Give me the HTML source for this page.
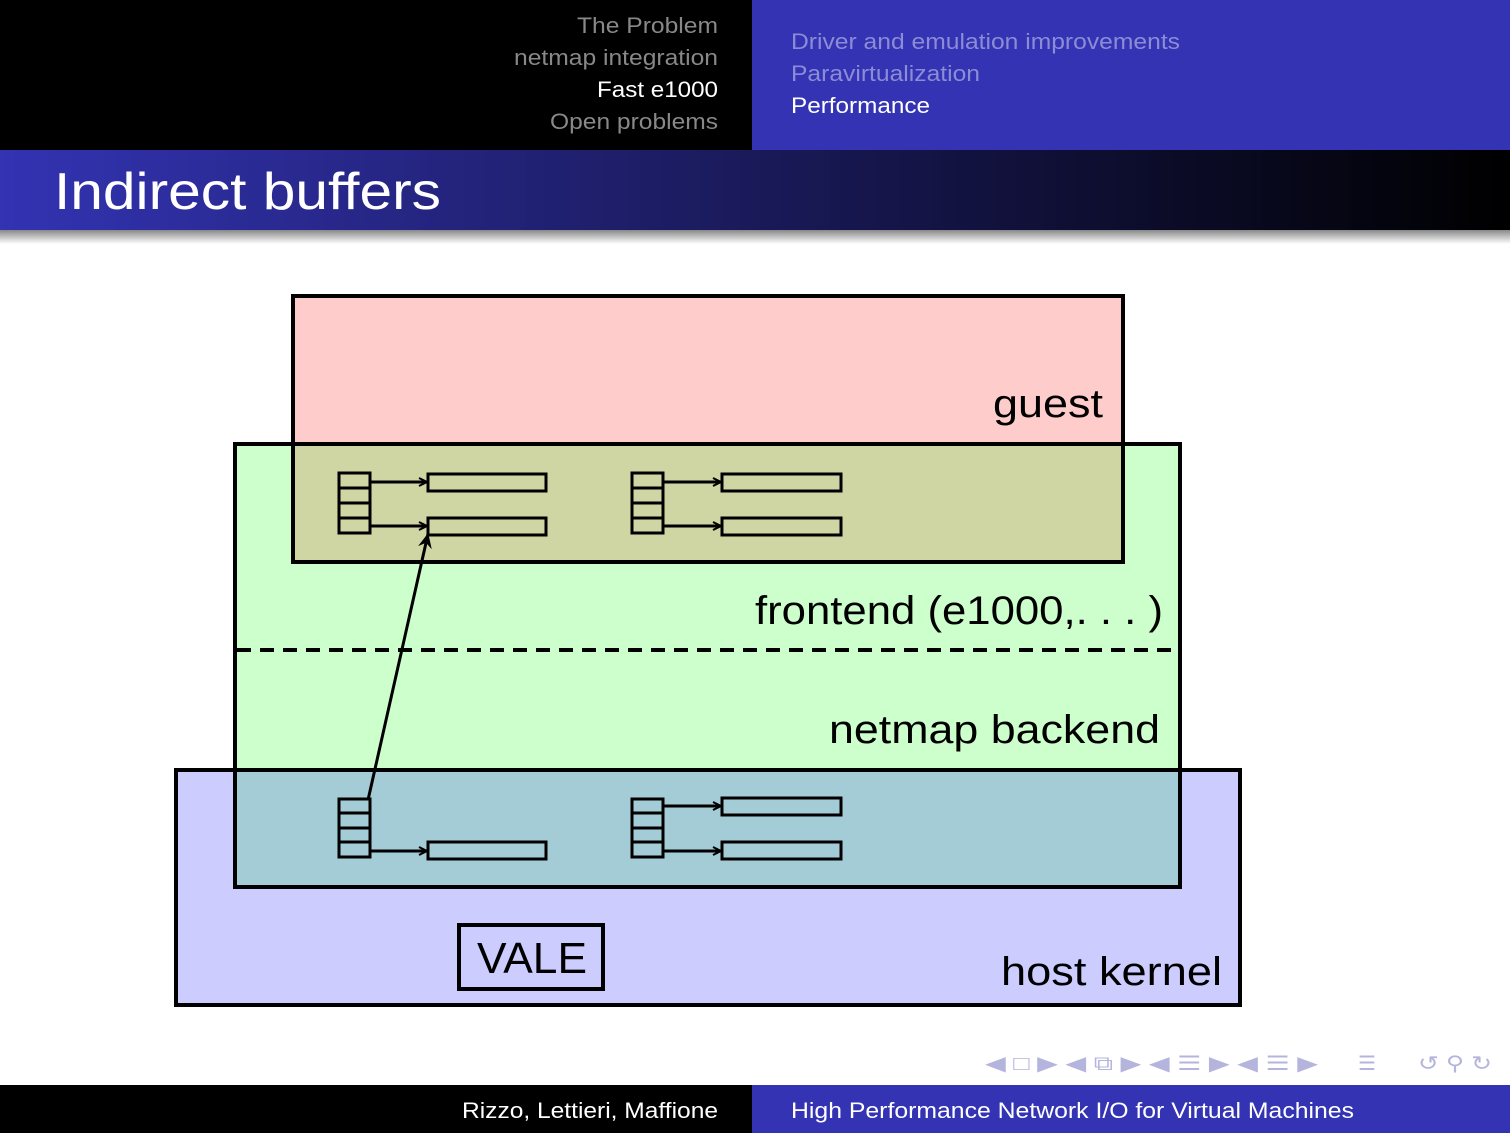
<!DOCTYPE html>
<html><head><style>
body{margin:0;width:1510px;height:1133px;overflow:hidden;background:#fff;font-family:"Liberation Sans",sans-serif}
</style></head><body>
<svg width="1510" height="1133" xmlns="http://www.w3.org/2000/svg" style="position:absolute;left:0;top:0">
<defs>
<linearGradient id="tg" x1="0" x2="1" y1="0" y2="0"><stop offset="0" stop-color="#3333b3"/><stop offset="1" stop-color="#000"/></linearGradient>
<linearGradient id="sh" x1="0" x2="0" y1="0" y2="1"><stop offset="0" stop-color="#888"/><stop offset="1" stop-color="#fff"/></linearGradient>
<marker id="ah" markerWidth="10" markerHeight="10" refX="9" refY="5" orient="auto" markerUnits="userSpaceOnUse"><path d="M1,1 L9,5 L1,9" fill="none" stroke="#000" stroke-width="2"/></marker>
<marker id="ah2" markerWidth="16" markerHeight="16" refX="14" refY="8" orient="auto" markerUnits="userSpaceOnUse"><path d="M0,1 L15,8 L0,15 L5,8 Z" fill="#000"/></marker>
</defs>
<rect x="0" y="0" width="752" height="150" fill="#000"/>
<rect x="752" y="0" width="758" height="150" fill="#3333b3"/>
<g font-size="22" text-anchor="end" lengthAdjust="spacingAndGlyphs">
<text x="718" y="33" fill="#888" textLength="141" lengthAdjust="spacingAndGlyphs">The Problem</text>
<text x="718" y="65" fill="#888" textLength="204" lengthAdjust="spacingAndGlyphs">netmap integration</text>
<text x="718" y="97" fill="#fff" textLength="121" lengthAdjust="spacingAndGlyphs">Fast e1000</text>
<text x="718" y="129" fill="#888" textLength="168" lengthAdjust="spacingAndGlyphs">Open problems</text>
</g>
<g font-size="22">
<text x="791" y="49" fill="#8c8cd6" textLength="389" lengthAdjust="spacingAndGlyphs">Driver and emulation improvements</text>
<text x="791" y="81" fill="#8c8cd6" textLength="189" lengthAdjust="spacingAndGlyphs">Paravirtualization</text>
<text x="791" y="113" fill="#fff" textLength="139" lengthAdjust="spacingAndGlyphs">Performance</text>
</g>
<rect x="0" y="150" width="1510" height="80" fill="url(#tg)"/>
<rect x="0" y="230" width="1510" height="14" fill="url(#sh)"/>
<text x="54" y="209" font-size="52" fill="#fff" textLength="387" lengthAdjust="spacingAndGlyphs">Indirect buffers</text>

<rect x="293" y="296" width="830" height="266" fill="#ffcccc"/>
<rect x="235" y="444" width="945" height="443" fill="#ccffcc"/>
<rect x="176" y="770" width="1064" height="235" fill="#ccccff"/>
<rect x="293" y="444" width="830" height="118" fill="#cfd6a3"/>
<rect x="235" y="770" width="945" height="117" fill="#a3ccd6"/>
<g fill="none" stroke="#000" stroke-width="4">
<rect x="293" y="296" width="830" height="266"/>
<rect x="235" y="444" width="945" height="443"/>
<rect x="176" y="770" width="1064" height="235"/>
</g>
<line x1="237" y1="650" x2="1178" y2="650" stroke="#000" stroke-width="4" stroke-dasharray="14,9"/>

<g fill="none" stroke="#000" stroke-width="3">
<rect x="339" y="473" width="31" height="60"/><line x1="339" y1="488" x2="370" y2="488"/><line x1="339" y1="503" x2="370" y2="503"/><line x1="339" y1="518" x2="370" y2="518"/>
<rect x="428" y="474" width="118" height="17"/><rect x="428" y="518" width="118" height="17"/>
<line x1="370" y1="482" x2="427" y2="482" marker-end="url(#ah)"/><line x1="370" y1="526" x2="427" y2="526" marker-end="url(#ah)"/>
<rect x="632" y="473" width="31" height="60"/><line x1="632" y1="488" x2="663" y2="488"/><line x1="632" y1="503" x2="663" y2="503"/><line x1="632" y1="518" x2="663" y2="518"/>
<rect x="722" y="474" width="119" height="17"/><rect x="722" y="518" width="119" height="17"/>
<line x1="663" y1="482" x2="721" y2="482" marker-end="url(#ah)"/><line x1="663" y1="526" x2="721" y2="526" marker-end="url(#ah)"/>
<rect x="339" y="799" width="31" height="58"/><line x1="339" y1="813" x2="370" y2="813"/><line x1="339" y1="828" x2="370" y2="828"/><line x1="339" y1="842" x2="370" y2="842"/>
<rect x="428" y="842" width="118" height="17"/>
<line x1="370" y1="851" x2="427" y2="851" marker-end="url(#ah)"/>
<rect x="632" y="799" width="31" height="58"/><line x1="632" y1="813" x2="663" y2="813"/><line x1="632" y1="828" x2="663" y2="828"/><line x1="632" y1="842" x2="663" y2="842"/>
<rect x="722" y="798" width="119" height="17"/><rect x="722" y="842" width="119" height="17"/>
<line x1="663" y1="806" x2="721" y2="806" marker-end="url(#ah)"/><line x1="663" y1="851" x2="721" y2="851" marker-end="url(#ah)"/>
<line x1="368" y1="800" x2="428" y2="534" marker-end="url(#ah2)"/>
<rect x="459" y="925" width="144" height="64" stroke-width="4"/>
</g>
<text x="477" y="973" font-size="44" textLength="110" lengthAdjust="spacingAndGlyphs">VALE</text>
<g font-size="40" fill="#000">
<text x="993" y="417" textLength="110" lengthAdjust="spacingAndGlyphs">guest</text>
<text x="755" y="624" textLength="408" lengthAdjust="spacingAndGlyphs">frontend (e1000,. . . )</text>
<text x="829" y="743" textLength="331" lengthAdjust="spacingAndGlyphs">netmap backend</text>
<text x="1001" y="985" textLength="221" lengthAdjust="spacingAndGlyphs">host kernel</text>
</g>

<g fill="#b4b4dc" font-size="20">
<text x="985" y="1070" textLength="333" lengthAdjust="spacingAndGlyphs">◀ □ ▶ ◀ ⧉ ▶ ◀ ☰ ▶ ◀ ☰ ▶</text>
<text x="1358" y="1070">☰</text>
<text x="1418" y="1070" textLength="74" lengthAdjust="spacingAndGlyphs">↺ ⚲ ↻</text>
</g>
<rect x="0" y="1085" width="752" height="48" fill="#000"/>
<rect x="752" y="1085" width="758" height="48" fill="#3333b3"/>
<text x="462" y="1118" font-size="22" fill="#fff" textLength="256" lengthAdjust="spacingAndGlyphs">Rizzo, Lettieri, Maffione</text>
<text x="791" y="1118" font-size="22" fill="#fff" textLength="563" lengthAdjust="spacingAndGlyphs">High Performance Network I/O for Virtual Machines</text>
</svg>
</body></html>
